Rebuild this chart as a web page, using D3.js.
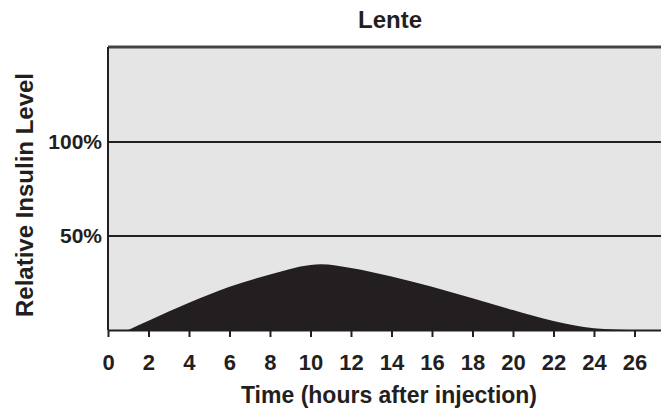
<!DOCTYPE html>
<html>
<head>
<meta charset="utf-8">
<script src="https://cdn.jsdelivr.net/npm/d3@7"></script>
<style>
  html, body { margin: 0; padding: 0; background: #fff; }
  svg { display: block; }
  text { font-family: "Liberation Sans", Arial, Helvetica, sans-serif; font-weight: bold; fill: #231f20; }
</style>
</head>
<body>
<script>
// Lente insulin action profile: relative level (%) against hours after injection
const hours  = [1, 2, 4, 6, 8, 10, 10.5, 12, 14, 16, 18, 20, 22, 24, 25, 25.7];
const levels = [0, 4.9, 14.5, 23, 29.5, 34.6, 35, 33, 28.4, 23, 16.9, 10.6, 4.8, 0.9, 0.25, 0];
const xTicks = [0, 2, 4, 6, 8, 10, 12, 14, 16, 18, 20, 22, 24, 26];
const yTicks = [50, 100];
const chartTitle = "Lente";
const xTitle = "Time (hours after injection)";
const yTitle = "Relative Insulin Level";

const W = 661, H = 411;
const plotL = 108, plotR = 661, plotT = 47, plotB = 330;

const svg = d3.select("body").append("svg").attr("width", W).attr("height", H);

const x = d3.scaleLinear().domain([0, 27.31]).range([plotL, plotR]);
const y = d3.scaleLinear().domain([0, 150.5]).range([plotB, plotT]);

// plot background
svg.append("rect")
  .attr("x", plotL).attr("y", plotT)
  .attr("width", plotR - plotL).attr("height", plotB - plotT)
  .attr("fill", "#e5e5e5");

// insulin curve
const pts = hours.map((h, i) => [h, levels[i]]);
svg.append("path")
  .datum(pts)
  .attr("fill", "#231f20")
  .attr("d", d3.area()
    .x(d => x(d[0]))
    .y0(y(0))
    .y1(d => y(d[1]))
    .curve(d3.curveMonotoneX));

// horizontal reference lines
svg.append("g").selectAll("line").data(yTicks).join("line")
  .attr("x1", plotL).attr("x2", plotR)
  .attr("y1", d => y(d)).attr("y2", d => y(d))
  .attr("stroke", "#231f20").attr("stroke-width", 2);

// top and left frame
svg.append("line").attr("x1", plotL).attr("x2", plotR).attr("y1", plotT).attr("y2", plotT)
  .attr("stroke", "#444").attr("stroke-width", 3);
svg.append("line").attr("x1", plotL).attr("x2", plotL).attr("y1", plotT).attr("y2", plotB)
  .attr("stroke", "#231f20").attr("stroke-width", 2);

// x axis
const xAxis = svg.append("g")
  .attr("transform", `translate(0,${plotB})`)
  .call(d3.axisBottom(x).tickValues(xTicks).tickSize(7).tickPadding(17).tickSizeOuter(0));
xAxis.select(".domain").attr("stroke", "#231f20").attr("stroke-width", 2);
xAxis.selectAll(".tick line").attr("stroke", "#231f20").attr("stroke-width", 2);
xAxis.selectAll(".tick text").attr("font-size", 22).attr("font-family", null).attr("fill", "#231f20");

// y axis labels
const yAxis = svg.append("g")
  .attr("transform", `translate(${plotL},0)`)
  .call(d3.axisLeft(y).tickValues(yTicks).tickFormat(d => d + "%").tickSize(0).tickPadding(6));
yAxis.select(".domain").remove();
yAxis.selectAll(".tick text").attr("font-size", 21).attr("font-family", null).attr("fill", "#231f20");

// titles
svg.append("text").attr("x", 390).attr("y", 28)
  .attr("text-anchor", "middle").attr("font-size", 24).text(chartTitle);
svg.append("text").attr("x", 389).attr("y", 403)
  .attr("text-anchor", "middle").attr("font-size", 23).text(xTitle);
svg.append("text")
  .attr("transform", "translate(33,195) rotate(-90)")
  .attr("text-anchor", "middle").attr("font-size", 24).text(yTitle);
</script>
</body>
</html>
